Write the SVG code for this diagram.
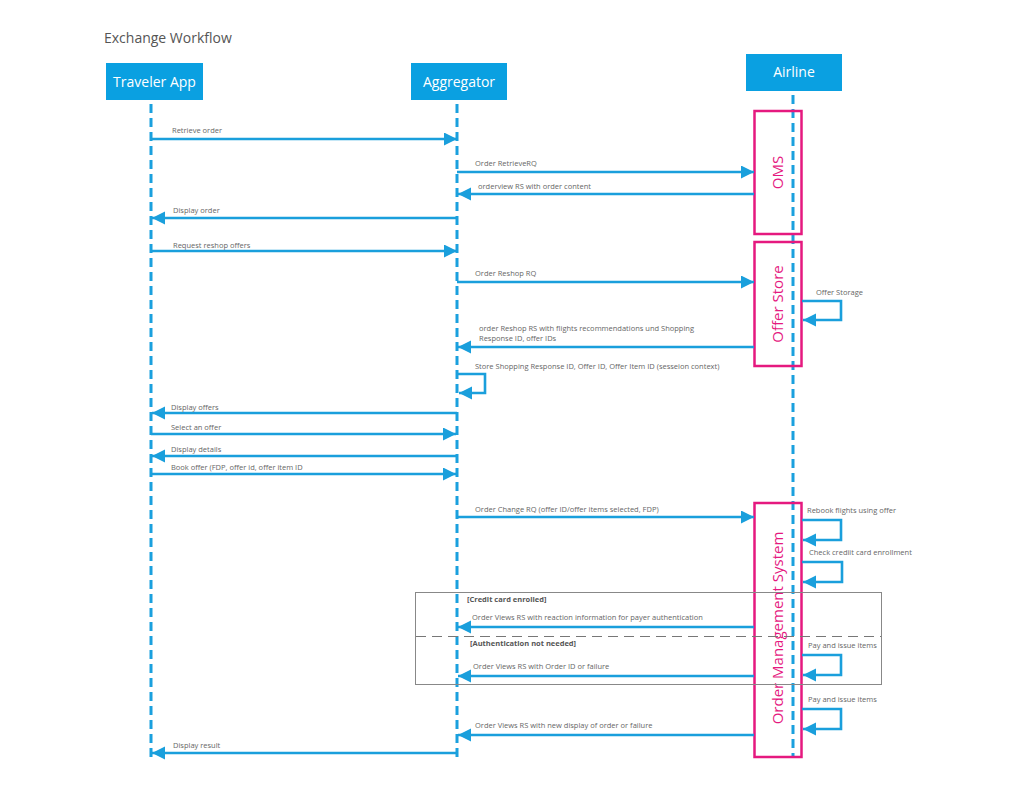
<svg xmlns="http://www.w3.org/2000/svg" width="1024" height="808" viewBox="0 0 1024 808">
<defs>
<style>
.hdr{fill:#0aa0e1}
.hdrt{fill:#fff;font-family:"Open Sans","Noto Sans",sans-serif;font-size:14px;text-anchor:middle}
.life{stroke:#1aa0de;stroke-width:3;stroke-dasharray:9 5;fill:none}
.msg{stroke:#1a9fdc;stroke-width:2.6;fill:none}
.lbl{fill:#666;font-family:"Open Sans","Noto Sans",sans-serif;font-size:7.5px}
.blbl{fill:#555;font-family:"Open Sans","Noto Sans",sans-serif;font-size:7.5px;font-weight:bold}
.act{fill:none;stroke:#e5197f;stroke-width:2.5}
.actt{fill:#e5197f;font-family:"Open Sans","Noto Sans",sans-serif;font-size:15px;text-anchor:middle}
.frame{fill:none;stroke:#888;stroke-width:1}
</style>
<marker id="ah" markerUnits="userSpaceOnUse" markerWidth="16" markerHeight="14" refX="13" refY="6.5" orient="auto">
<path d="M0,0 L13,6.5 L0,13 z" fill="#1a9fdc"/>
</marker>
</defs>
<rect width="1024" height="808" fill="#fff"/>
<text x="104" y="43" fill="#555" font-family="'Open Sans','Noto Sans',sans-serif" font-size="14">Exchange Workflow</text>

<g id="traveler">
<rect class="hdr" x="106" y="63" width="97" height="37"/>
<text class="hdrt" x="154.5" y="87">Traveler App</text>
<line class="life" x1="151" y1="104" x2="151" y2="760"/>
</g>
<g id="aggregator">
<rect class="hdr" x="411" y="63" width="96" height="37"/>
<text class="hdrt" x="459" y="87">Aggregator</text>
<line class="life" x1="457" y1="104" x2="457" y2="760"/>
</g>
<g id="airline">
<rect class="hdr" x="746" y="54" width="96" height="37"/>
<text class="hdrt" x="794" y="77">Airline</text>
<line class="life" x1="793" y1="95" x2="793" y2="757"/>
</g>
<g id="oms">
<rect class="act" x="754.5" y="111" width="47" height="123"/>
<text class="actt" transform="translate(783,172.5) rotate(-90)">OMS</text>
</g>
<g id="offerstore">
<rect class="act" x="754.5" y="242" width="47" height="124"/>
<text class="actt" transform="translate(783,304) rotate(-90)">Offer Store</text>
</g>
<g id="ordermgmt">
<rect class="act" x="754.5" y="503" width="47" height="254"/>
<text class="actt" transform="translate(783,628) rotate(-90)">Order Management System</text>
</g>

<g id="frame">
<rect class="frame" x="415.5" y="592.5" width="466" height="92"/>
<line x1="416" y1="636.5" x2="881" y2="636.5" stroke="#777" stroke-width="1.2" stroke-dasharray="10 6"/>
<text class="blbl" x="467" y="602">[Credit card enrolled]</text>
<text class="blbl" x="470" y="646">[Authentication not needed]</text>
</g>

<g id="connectors">
<line class="msg" x1="151" y1="139" x2="457" y2="139" marker-end="url(#ah)"/>
<line class="msg" x1="457" y1="172" x2="754" y2="172" marker-end="url(#ah)"/>
<line class="msg" x1="754" y1="194" x2="458" y2="194" marker-end="url(#ah)"/>
<line class="msg" x1="457" y1="218" x2="152" y2="218" marker-end="url(#ah)"/>
<line class="msg" x1="151" y1="251" x2="457" y2="251" marker-end="url(#ah)"/>
<line class="msg" x1="457" y1="282" x2="754" y2="282" marker-end="url(#ah)"/>
<polyline class="msg" points="802,301 841,301 841,320 803,320" marker-end="url(#ah)"/>
<line class="msg" x1="754" y1="347" x2="458" y2="347" marker-end="url(#ah)"/>
<polyline class="msg" points="458,374 485,374 485,393 459,393" marker-end="url(#ah)"/>
<line class="msg" x1="457" y1="413" x2="152" y2="413" marker-end="url(#ah)"/>
<line class="msg" x1="151" y1="434" x2="456" y2="434" marker-end="url(#ah)"/>
<line class="msg" x1="457" y1="456" x2="152" y2="456" marker-end="url(#ah)"/>
<line class="msg" x1="151" y1="474" x2="456" y2="474" marker-end="url(#ah)"/>
<line class="msg" x1="457" y1="517" x2="754" y2="517" marker-end="url(#ah)"/>
<polyline class="msg" points="802,520 841,520 841,540 803,540" marker-end="url(#ah)"/>
<polyline class="msg" points="802,562 842,562 842,582 803,582" marker-end="url(#ah)"/>
<line class="msg" x1="754" y1="627" x2="458" y2="627" marker-end="url(#ah)"/>
<polyline class="msg" points="802,655 841,655 841,675 803,675" marker-end="url(#ah)"/>
<line class="msg" x1="754" y1="676" x2="458" y2="676" marker-end="url(#ah)"/>
<polyline class="msg" points="802,709 841,709 841,729 803,729" marker-end="url(#ah)"/>
<line class="msg" x1="754" y1="735" x2="458" y2="735" marker-end="url(#ah)"/>
<line class="msg" x1="457" y1="753" x2="152" y2="753" marker-end="url(#ah)"/>
</g>

<g id="labels">
<text class="lbl" x="172" y="133">Retrieve order</text>
<text class="lbl" x="475" y="166">Order RetrieveRQ</text>
<text class="lbl" x="478" y="189">orderview RS with order content</text>
<text class="lbl" x="173" y="213">Display order</text>
<text class="lbl" x="173" y="248">Request reshop offers</text>
<text class="lbl" x="475" y="276">Order Reshop RQ</text>
<text class="lbl" x="816" y="295">Offer Storage</text>
<text class="lbl" x="479" y="331">order Reshop RS with flights recommendations und Shopping</text>
<text class="lbl" x="479" y="341">Response ID, offer IDs</text>
<text class="lbl" x="475" y="369">Store Shopping Response ID, Offer ID, Offer Item ID (sesseion context)</text>
<text class="lbl" x="171" y="410">Display offers</text>
<text class="lbl" x="171" y="430">Select an offer</text>
<text class="lbl" x="171" y="452">Display details</text>
<text class="lbl" x="171" y="470">Book offer (FDP, offer id, offer item ID</text>
<text class="lbl" x="475" y="512">Order Change RQ (offer ID/offer items selected, FDP)</text>
<text class="lbl" x="807" y="513">Rebook flights using offer</text>
<text class="lbl" x="809" y="555">Check crediit card enrollment</text>
<text class="lbl" x="472" y="620">Order Views RS with reaction information for payer authentication</text>
<text class="lbl" x="808" y="648">Pay and issue items</text>
<text class="lbl" x="473" y="669">Order Views RS with Order ID or failure</text>
<text class="lbl" x="808" y="702">Pay and issue items</text>
<text class="lbl" x="475" y="728">Order Views RS with new display of order or failure</text>
<text class="lbl" x="173" y="748">Display result</text>
</g>
</svg>
